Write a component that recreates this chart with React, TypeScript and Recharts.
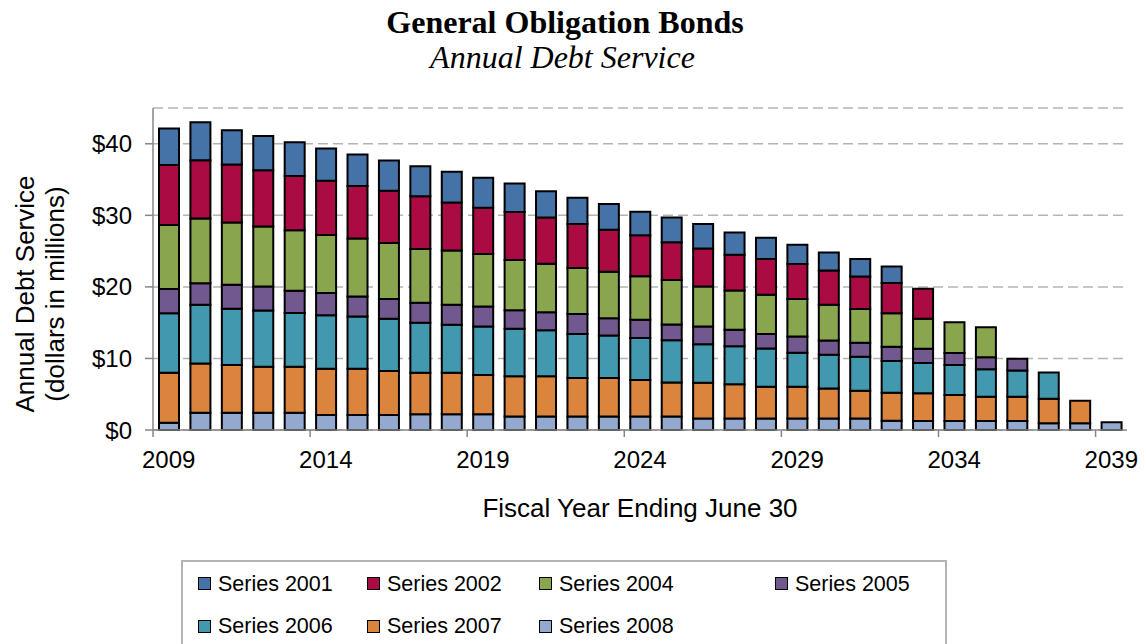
import React from "react";
import {
  BarChart,
  Bar,
  XAxis,
  YAxis,
  CartesianGrid,
  Legend,
} from "recharts";

// fiscal years, one bar each
const years = [
  2009, 2010, 2011, 2012, 2013, 2014, 2015, 2016, 2017, 2018, 2019, 2020, 2021,
  2022, 2023, 2024, 2025, 2026, 2027, 2028, 2029, 2030, 2031, 2032, 2033, 2034,
  2035, 2036, 2037, 2038, 2039,
];

// debt service per series, $ millions
const s2008 = [
  1.0, 2.4, 2.4, 2.4, 2.4, 2.1, 2.1, 2.1, 2.2, 2.2, 2.2, 1.9, 1.9, 1.9, 1.9, 1.9,
  1.9, 1.6, 1.6, 1.6, 1.6, 1.6, 1.6, 1.3, 1.25, 1.25, 1.25, 1.25, 0.95, 0.95, 1.1,
];
const s2007 = [
  7.0, 6.9, 6.7, 6.45, 6.45, 6.45, 6.45, 6.15, 5.8, 5.8, 5.5, 5.6, 5.6, 5.35, 5.35,
  5.1, 4.75, 5.0, 4.8, 4.45, 4.45, 4.2, 3.9, 3.9, 3.9, 3.65, 3.4, 3.4, 3.4, 3.15,
  null,
];
const s2006 = [
  8.3, 8.2, 7.85, 7.85, 7.5, 7.5, 7.3, 7.3, 7.0, 6.7, 6.75, 6.65, 6.45, 6.15, 5.95,
  5.85, 5.9, 5.4, 5.3, 5.35, 4.75, 4.7, 4.75, 4.45, 4.2, 4.2, 3.85, 3.65, 3.7, null,
  null,
];
const s2005 = [
  3.4, 3.0, 3.35, 3.35, 3.1, 3.1, 2.8, 2.75, 2.8, 2.8, 2.8, 2.6, 2.5, 2.8, 2.4,
  2.55, 2.2, 2.45, 2.3, 2.0, 2.25, 2.0, 1.95, 2.0, 2.0, 1.65, 1.65, 1.65, null, null,
  null,
];
const s2004 = [
  8.95, 9.05, 8.7, 8.4, 8.45, 8.1, 8.1, 7.85, 7.5, 7.6, 7.35, 7.0, 6.8, 6.45, 6.5,
  6.1, 6.2, 5.6, 5.5, 5.5, 5.25, 5.0, 4.7, 4.65, 4.2, 4.3, 4.2, null, null, null,
  null,
];
const s2002 = [
  8.4, 8.15, 8.1, 7.85, 7.6, 7.6, 7.35, 7.3, 7.35, 6.7, 6.45, 6.7, 6.45, 6.15, 5.9,
  5.7, 5.3, 5.3, 5.0, 5.0, 4.9, 4.8, 4.55, 4.25, 4.2, null, null, null, null, null,
  null,
];
const s2001 = [
  5.1, 5.3, 4.8, 4.8, 4.7, 4.5, 4.4, 4.2, 4.2, 4.3, 4.2, 4.0, 3.65, 3.65, 3.6, 3.3,
  3.45, 3.45, 3.1, 2.95, 2.7, 2.5, 2.45, 2.3, null, null, null, null, null, null,
  null,
];

const yTicks = [0, 10, 20, 30, 40];

// legend order (top of stack first)
const seriesKeys = ["s2001", "s2002", "s2004", "s2005", "s2006", "s2007", "s2008"];
const seriesNames = [
  "Series 2001",
  "Series 2002",
  "Series 2004",
  "Series 2005",
  "Series 2006",
  "Series 2007",
  "Series 2008",
];
const seriesColors = [
  "#4572A7",
  "#AA0B43",
  "#89A54E",
  "#71588F",
  "#4198AF",
  "#DB843D",
  "#93A9CF",
];

const data = years.map((year, i) => ({
  year,
  s2001: s2001[i],
  s2002: s2002[i],
  s2004: s2004[i],
  s2005: s2005[i],
  s2006: s2006[i],
  s2007: s2007[i],
  s2008: s2008[i],
}));

const W = 1146;
const H = 650;
const PLOT_LEFT = 153;
const PLOT_RIGHT = 1127;
const BAND = (PLOT_RIGHT - PLOT_LEFT) / years.length;
const FONT = '"Liberation Sans", Arial, sans-serif';
const SERIF = '"Liberation Serif", "Times New Roman", serif';
const AXIS_GRAY = "#868686";

function XTick(props: any) {
  const { x, y, payload, index } = props;
  if (index % 5 !== 0) return <g />;
  const edge = x - BAND / 2;
  return (
    <g>
      <line x1={edge} x2={edge} y1={y} y2={y + 7} stroke={AXIS_GRAY} strokeWidth={1.5} />
      <text x={x} y={y + 38} textAnchor="middle" fontSize={24} fill="#000" fontFamily={FONT}>
        {payload.value}
      </text>
    </g>
  );
}

function YTitle(props: any) {
  const vb = props.viewBox || { y: 108, height: 322 };
  const cy = vb.y + vb.height / 2 + 25;
  return (
    <g fontFamily={FONT} fontSize={26} fill="#000">
      <text transform={`translate(34, ${cy}) rotate(-90)`} textAnchor="middle">
        Annual Debt Service
      </text>
      <text transform={`translate(64, ${cy}) rotate(-90)`} textAnchor="middle">
        (dollars in millions)
      </text>
    </g>
  );
}

const legendCols = [17, 186, 358, 594];
const legendRows = [23.5, 66];

function LegendBox() {
  return (
    <div
      style={{
        position: "relative",
        marginLeft: 181,
        width: 766,
        height: 90,
        border: "2px solid #b4b4b4",
        boxSizing: "border-box",
        fontFamily: FONT,
        fontSize: 21.5,
        color: "#000",
      }}
    >
      {seriesNames.map((name, i) => {
        const left = legendCols[i % 4] - 2;
        const cy = legendRows[Math.floor(i / 4)] - 2;
        return (
          <div
            key={name}
            style={{
              position: "absolute",
              left,
              top: cy - 13,
              height: 26,
              display: "flex",
              alignItems: "center",
              whiteSpace: "nowrap",
            }}
          >
            <span
              style={{
                display: "inline-block",
                width: 13,
                height: 13,
                boxSizing: "border-box",
                background: seriesColors[i],
                border: "1.5px solid #000",
                marginRight: 7,
              }}
            />
            <span style={{ lineHeight: "26px" }}>{name}</span>
          </div>
        );
      })}
    </div>
  );
}

export default function App() {
  // stack from bottom: 2008 first, 2001 last
  const stackOrder = [...seriesKeys.keys()].reverse();
  return (
    <div
      style={{
        position: "absolute",
        left: 0,
        top: 0,
        width: W,
        height: 644,
        overflow: "hidden",
        background: "#fff",
      }}
    >
      <div
        style={{
          position: "absolute",
          left: 0,
          top: 6,
          width: 1130,
          textAlign: "center",
          fontFamily: SERIF,
          fontWeight: "bold",
          fontSize: 32,
          lineHeight: "32px",
        }}
      >
        General Obligation Bonds
      </div>
      <div
        style={{
          position: "absolute",
          left: 0,
          top: 41,
          width: 1125,
          textAlign: "center",
          fontFamily: SERIF,
          fontStyle: "italic",
          fontSize: 32,
          lineHeight: "32px",
        }}
      >
        Annual Debt Service
      </div>
      <BarChart
        width={W}
        height={H}
        data={data}
        margin={{ top: 108, right: W - PLOT_RIGHT, left: 0, bottom: 0 }}
      >
        <CartesianGrid vertical={false} stroke="#b4b4b4" strokeDasharray="10 5" strokeWidth={1.5} />
        <XAxis
          dataKey="year"
          interval={0}
          height={130}
          tick={<XTick />}
          tickLine={false}
          tickSize={0}
          tickMargin={0}
          axisLine={{ stroke: AXIS_GRAY, strokeWidth: 1.5 }}
          label={{
            value: "Fiscal Year Ending June 30",
            position: "insideBottom",
            offset: 43,
            fontSize: 26,
            fill: "#000",
            fontFamily: FONT,
          }}
        />
        <YAxis
          width={PLOT_LEFT}
          domain={[0, 45]}
          ticks={yTicks}
          tickFormatter={(v) => `$${v}`}
          tickSize={8}
          tickMargin={13}
          tick={{ fill: "#000", fontSize: 24, fontFamily: FONT }}
          tickLine={{ stroke: AXIS_GRAY, strokeWidth: 1.5 }}
          axisLine={{ stroke: AXIS_GRAY, strokeWidth: 1.5 }}
          label={YTitle}
        />
        {stackOrder.map((i) => (
          <Bar
            key={seriesKeys[i]}
            dataKey={seriesKeys[i]}
            name={seriesNames[i]}
            stackId="debt"
            fill={seriesColors[i]}
            stroke="#000"
            strokeWidth={2}
            barSize={20}
            isAnimationActive={false}
          />
        ))}
        <Legend verticalAlign="bottom" content={<LegendBox />} />
      </BarChart>
    </div>
  );
}
